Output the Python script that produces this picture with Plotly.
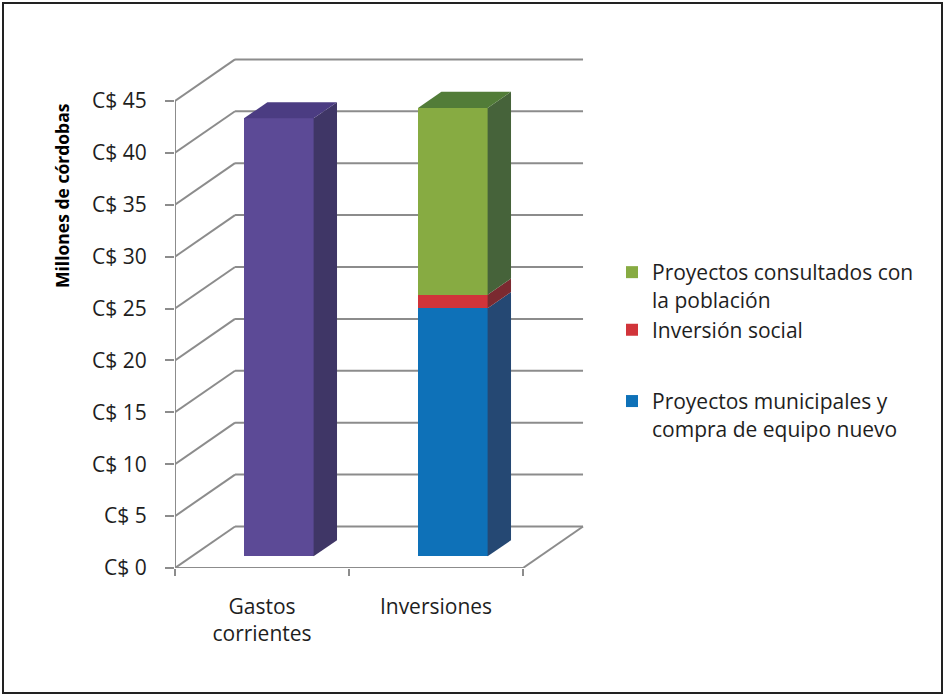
import plotly.graph_objects as go

# ---- data ----
categories = ["Gastos<br>corrientes", "Inversiones"]
gastos_corrientes = [42.2, 0]
proyectos_municipales = [0, 23.9]
inversion_social = [0, 1.3]
proyectos_consultados = [0, 18.0]
y_ticks = [0, 5, 10, 15, 20, 25, 30, 35, 40, 45]
y_tick_labels = ["C$ 0", "C$ 5", "C$ 10", "C$ 15", "C$ 20", "C$ 25", "C$ 30", "C$ 35", "C$ 40", "C$ 45"]

# ---- geometry of the pseudo-3D view (oblique projection) ----
KX, KY = 0.345, 4.0          # full depth offset in x (category units) and y (value units)
D0, D1 = 0.28, 0.67          # bar front / back depth fractions
HW = 0.20                    # half bar width
XMIN, XMAX = -0.5, 2.0
YMIN, YMAX = 0, 50
L, T = 175, 49
W = 435
H = 519
FW, FH = 945, 696

FONT = "Open Sans"
TXT = "#1e1e1e"
GRID = "#8c8c8c"

# stacking order (bottom to top) with legend position
series = [
    ("Gastos corrientes", gastos_corrientes, "#5C4A96", "#3F3666", "#4B3C82", False, "g0", 0),
    ("Proyectos municipales y<br>compra de equipo nuevo", proyectos_municipales, "#0E71B8", "#254873", "#1A5C94", True, "g2", 3),
    ("Inversión social", inversion_social, "#D1343A", "#7B2A30", "#A52D33", True, "g1", 2),
    ("Proyectos consultados con<br>la población", proyectos_consultados, "#87AB42", "#46633A", "#527C38", True, "g1", 1),
]

fig = go.Figure()

shapes = []
# back wall + left wall gridlines
x_front_left = XMIN
x_front_right = len(categories) - 0.5
for v in y_ticks:
    shapes.append(dict(type="line", x0=x_front_left, y0=v, x1=x_front_left + KX, y1=v + KY,
                       line=dict(color=GRID, width=2), layer="below"))
    shapes.append(dict(type="line", x0=x_front_left + KX, y0=v + KY, x1=x_front_right + KX, y1=v + KY,
                       line=dict(color=GRID, width=2), layer="below"))
# floor front edge and right edge, front axis line
shapes.append(dict(type="line", x0=x_front_left, y0=0, x1=x_front_right, y1=0,
                   line=dict(color=GRID, width=2), layer="below"))
shapes.append(dict(type="line", x0=x_front_right, y0=0, x1=x_front_right + KX, y1=KY,
                   line=dict(color=GRID, width=2), layer="below"))
shapes.append(dict(type="line", x0=x_front_left, y0=0, x1=x_front_left, y1=max(y_ticks),
                   line=dict(color=GRID, width=2), layer="below"))

# bars
bases = [0.0] * len(categories)
tops_info = [None] * len(categories)
bar_traces = []
for name, vals, cf, cs, ct, leg, grp, order in series:
    xs, ys, bs = [], [], []
    for ci, v in enumerate(vals):
        if v <= 0:
            continue
        b = bases[ci]
        xs.append(ci + D0 * KX)
        ys.append(v)
        bs.append(b + D0 * KY)
        # side face
        xr0 = ci + HW + D0 * KX
        xr1 = ci + HW + D1 * KX
        fig.add_trace(go.Scatter(
            x=[xr0, xr1, xr1, xr0, xr0],
            y=[b + D0 * KY, b + D1 * KY, b + v + D1 * KY, b + v + D0 * KY, b + D0 * KY],
            fill="toself", fillcolor=cs, mode="lines", line=dict(width=0, color=cs),
            showlegend=False, hoverinfo="skip", legendgroup="faces"))
        bases[ci] = b + v
        tops_info[ci] = ct
    bar_traces.append((order, go.Bar(
        x=xs, y=ys, base=bs, width=2 * HW, name=name,
        marker=dict(color=cf, line=dict(width=0)),
        showlegend=leg, legendgroup=grp)))

for _, tr in sorted(bar_traces, key=lambda t: t[0]):
    fig.add_trace(tr)

# top faces
for ci in range(len(categories)):
    t = bases[ci]
    ct = tops_info[ci]
    xl0 = ci - HW + D0 * KX
    xr0 = ci + HW + D0 * KX
    xl1 = ci - HW + D1 * KX
    xr1 = ci + HW + D1 * KX
    fig.add_trace(go.Scatter(
        x=[xl0, xr0, xr1, xl1, xl0],
        y=[t + D0 * KY, t + D0 * KY, t + D1 * KY, t + D1 * KY, t + D0 * KY],
        fill="toself", fillcolor=ct, mode="lines", line=dict(width=0, color=ct),
        showlegend=False, hoverinfo="skip", legendgroup="faces"))

def px_x(p):
    return (p - L) / W

def px_y(p):
    return (T + H - p) / H

# outer border
shapes.append(dict(type="rect", xref="paper", yref="paper",
                   x0=px_x(3), x1=px_x(942), y0=px_y(693), y1=px_y(3),
                   line=dict(color="#222222", width=2), layer="below"))

fig.update_layout(
    width=FW, height=FH,
    margin=dict(l=L, r=FW - L - W, t=T, b=FH - T - H, pad=0),
    paper_bgcolor="white", plot_bgcolor="white",
    barmode="overlay", bargap=0,
    shapes=shapes,
    font=dict(family=FONT, size=21, color=TXT),
    showlegend=True,
    legend=dict(x=px_x(612), y=px_y(252), xanchor="left", yanchor="top",
                font=dict(family=FONT, size=21, color=TXT), valign="top",
                bgcolor="rgba(0,0,0,0)", traceorder="grouped", tracegroupgap=41),
    annotations=[dict(text="<b>Millones de córdobas</b>", textangle=-90,
                      xref="paper", yref="paper", x=px_x(62), y=px_y(196),
                      xanchor="center", yanchor="middle",
                      showarrow=False, font=dict(family=FONT, size=17.5, color="#000000"))],
)
fig.update_xaxes(range=[XMIN, XMAX], showgrid=False, zeroline=False, showline=False,
                 tickmode="array", tickvals=list(range(len(categories))), ticktext=categories,
                 ticks="", ticklabelstandoff=24, tickfont=dict(family=FONT, size=21, color=TXT),
                 minor=dict(tickmode="array", tickvals=[i - 0.5 for i in range(len(categories) + 1)],
                            ticks="outside", ticklen=7, tickcolor=GRID, tickwidth=2))
fig.update_yaxes(range=[YMIN, YMAX], showgrid=False, zeroline=False, showline=False,
                 tickmode="array", tickvals=y_ticks, ticktext=y_tick_labels,
                 ticks="outside", ticklen=9, tickcolor=GRID, tickwidth=2,
                 ticklabelstandoff=14, tickfont=dict(family=FONT, size=21, color=TXT))

fig.write_html("out.html")
